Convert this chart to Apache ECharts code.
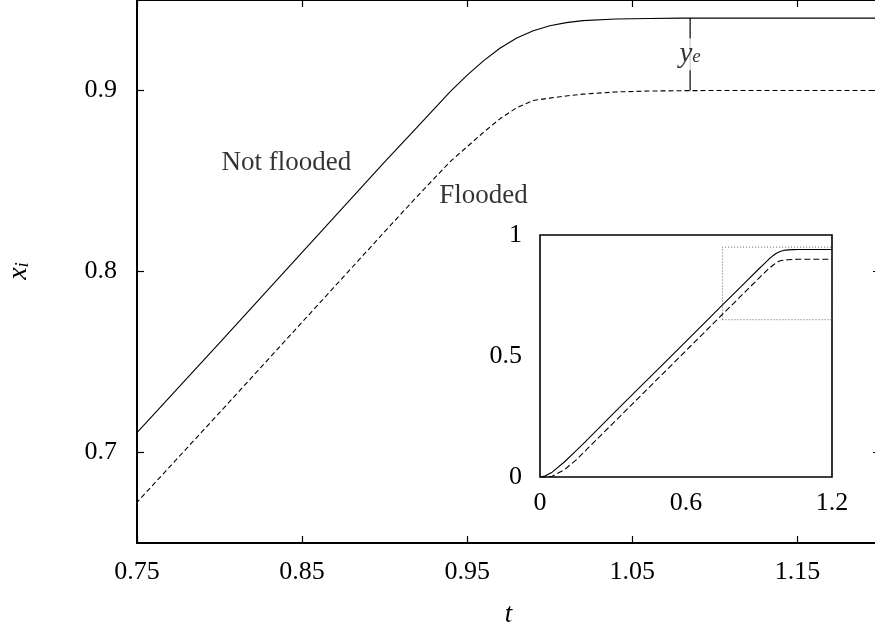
<!DOCTYPE html>
<html>
<head>
<meta charset="utf-8">
<script src="https://cdn.jsdelivr.net/npm/echarts@6/dist/echarts.min.js"></script>
<style>
  html, body { margin: 0; padding: 0; background: #fff; }
  #chart { width: 875px; height: 630px; }
</style>
</head>
<body>
<div id="chart"></div>
<script>
// time samples (t) and the two inlet curves
var tValues = [0, 0.02, 0.05, 0.1, 0.15, 0.2, 0.3, 0.4, 0.5, 0.6, 0.7, 0.75, 0.8, 0.85, 0.9,
	0.92, 0.94, 0.95, 0.96, 0.97, 0.98, 0.99, 1.0, 1.01, 1.02, 1.04, 1.06, 1.08, 1.1, 1.15, 1.2];
var notFlooded = [0, 0.004, 0.02, 0.062, 0.11, 0.16, 0.261, 0.361, 0.46, 0.56, 0.661, 0.711, 0.7605, 0.8105, 0.8605,
	0.880, 0.8997, 0.9085, 0.9165, 0.9235, 0.929, 0.933, 0.9358, 0.9375, 0.9386, 0.9395, 0.9398, 0.94, 0.94, 0.94, 0.94];
var flooded = [0, 0, 0.003, 0.03, 0.072, 0.122, 0.222, 0.322, 0.422, 0.522, 0.622, 0.6725, 0.722, 0.772, 0.822,
	0.8418, 0.861, 0.869, 0.877, 0.8845, 0.8905, 0.8945, 0.8958, 0.897, 0.898, 0.8992, 0.8997, 0.8999, 0.9, 0.9, 0.9];

// axis ranges and tick labels
var mainX = [0.75, 1.2];
var mainY = [0.65, 0.95];
var xTicks = [0.75, 0.85, 0.95, 1.05, 1.15];
var yTicks = [0.7, 0.8, 0.9];
var insetX = [0, 1.2];
var insetY = [0, 1];
var insetXTicks = [0, 0.6, 1.2];
var insetYTicks = [0, 0.5, 1];

// y_e marker
var yeAt = 1.085;
var yeRange = [0.9, 0.94];

// text annotations (anchor in data coordinates)
var notes = [
	{ name: 'Not flooded', value: [0.8405, 0.8602] },
	{ name: 'Flooded', value: [0.9599, 0.8417] }
];

var FONT = '"Liberation Serif", "DejaVu Serif", serif';

function pairs(xs, ys) {
	return xs.map(function (x, i) { return [x, ys[i]]; });
}

var chart = echarts.init(document.getElementById('chart'), null, { renderer: 'canvas' });

var tickStyle = { show: true, inside: true, length: 7, lineStyle: { color: '#000', width: 1.2 } };
var lineAxis = { show: true, lineStyle: { color: '#000', width: 2 } };

var option = {
	backgroundColor: '#fff',
	animation: false,
	textStyle: { fontFamily: FONT, color: '#000' },
	grid: [
		{ left: 137, top: 0, width: 743, height: 543, outerBoundsMode: 'none', containLabel: false },
		{ left: 540, top: 235, width: 292, height: 242, outerBoundsMode: 'none', containLabel: false,
			show: true, borderColor: '#000', borderWidth: 1.6, backgroundColor: '#fff', z: 5 }
	],
	// rotated y-axis title x_i
	graphic: [{
		type: 'text', x: 19, y: 271, rotation: Math.PI / 2,
		style: {
			text: '{a|x}{b|i}', align: 'center', verticalAlign: 'middle',
			rich: {
				a: { fontSize: 28, fontStyle: 'italic', fontFamily: FONT, fill: '#000', lineHeight: 27 },
				b: { fontSize: 19, fontStyle: 'italic', fontFamily: FONT, fill: '#000', lineHeight: 8, verticalAlign: 'bottom' }
			}
		}
	}],
	xAxis: [
		{
			type: 'value', gridIndex: 0, min: mainX[0], max: mainX[1], position: 'bottom',
			axisLine: lineAxis,
			axisTick: Object.assign({ customValues: xTicks }, tickStyle),
			axisLabel: { customValues: xTicks, fontSize: 26, fontFamily: FONT, color: '#000', margin: 16 },
			splitLine: { show: false },
			name: 't', nameLocation: 'middle', nameGap: 58,
			nameTextStyle: { fontSize: 27, fontStyle: 'italic', fontFamily: FONT, color: '#000' }
		},
		{
			type: 'value', gridIndex: 0, min: mainX[0], max: mainX[1], position: 'top',
			axisLine: lineAxis,
			axisTick: Object.assign({ customValues: xTicks }, tickStyle),
			axisLabel: { show: false },
			splitLine: { show: false }
		},
		{
			type: 'value', gridIndex: 1, min: insetX[0], max: insetX[1],
			axisLine: { show: false },
			axisTick: { show: false },
			axisLabel: { customValues: insetXTicks, fontSize: 26, fontFamily: FONT, color: '#000', margin: 13 },
			splitLine: { show: false }
		}
	],
	yAxis: [
		{
			type: 'value', gridIndex: 0, min: mainY[0], max: mainY[1], position: 'left',
			axisLine: lineAxis,
			axisTick: Object.assign({ customValues: yTicks }, tickStyle),
			axisLabel: { customValues: yTicks, fontSize: 26, fontFamily: FONT, color: '#000', margin: 20 },
			splitLine: { show: false }
		},
		{
			type: 'value', gridIndex: 0, min: mainY[0], max: mainY[1], position: 'right',
			axisLine: lineAxis,
			axisTick: Object.assign({ customValues: yTicks }, tickStyle),
			axisLabel: { show: false },
			splitLine: { show: false }
		},
		{
			type: 'value', gridIndex: 1, min: insetY[0], max: insetY[1],
			axisLine: { show: false },
			axisTick: { show: false },
			axisLabel: { customValues: insetYTicks, fontSize: 26, fontFamily: FONT, color: '#000', margin: 18 },
			splitLine: { show: false }
		}
	],
	series: [
		// main plot
		{
			type: 'line', xAxisIndex: 0, yAxisIndex: 0, data: pairs(tValues, notFlooded),
			showSymbol: false, smooth: false,
			lineStyle: { color: '#000', width: 1.1 }
		},
		{
			type: 'line', xAxisIndex: 0, yAxisIndex: 0, data: pairs(tValues, flooded),
			showSymbol: false, smooth: false,
			lineStyle: { color: '#000', width: 1.1, type: [5, 3] }
		},
		// y_e marker line
		{
			type: 'line', xAxisIndex: 0, yAxisIndex: 0,
			data: [[yeAt, yeRange[0]], [yeAt, yeRange[1]]],
			showSymbol: false, lineStyle: { color: '#000', width: 1.2 }
		},
		{
			type: 'scatter', xAxisIndex: 0, yAxisIndex: 0, symbolSize: 0, z: 10,
			data: [[yeAt, (yeRange[0] + yeRange[1]) / 2]],
			label: {
				show: true, position: 'inside', formatter: '{a|y}{b|e}',
				backgroundColor: '#fff', padding: [4, 2, 4, 2],
				rich: {
					a: { fontSize: 29, fontStyle: 'italic', fontFamily: FONT, color: '#000', lineHeight: 24 },
					b: { fontSize: 19, fontStyle: 'italic', fontFamily: FONT, color: '#000', lineHeight: 6, verticalAlign: 'bottom' }
				}
			}
		},
		// curve labels
		{
			type: 'scatter', xAxisIndex: 0, yAxisIndex: 0, symbolSize: 0, z: 10,
			data: notes,
			label: {
				show: true, position: 'inside', formatter: '{b}',
				fontSize: 27, fontFamily: FONT, color: '#000'
			}
		},
		// inset
		{
			type: 'line', xAxisIndex: 2, yAxisIndex: 2, z: 6,
			data: [[mainX[0], mainY[0]], [mainX[1], mainY[0]], [mainX[1], mainY[1]], [mainX[0], mainY[1]], [mainX[0], mainY[0]]],
			showSymbol: false, lineStyle: { color: '#666', width: 1, type: [1, 2] }
		},
		{
			type: 'line', xAxisIndex: 2, yAxisIndex: 2, z: 7, data: pairs(tValues, notFlooded),
			showSymbol: false, smooth: false,
			lineStyle: { color: '#000', width: 1.1 }
		},
		{
			type: 'line', xAxisIndex: 2, yAxisIndex: 2, z: 7, data: pairs(tValues, flooded),
			showSymbol: false, smooth: false,
			lineStyle: { color: '#000', width: 1.1, type: [6, 3] }
		}
	]
};

chart.setOption(option);
</script>
</body>
</html>
